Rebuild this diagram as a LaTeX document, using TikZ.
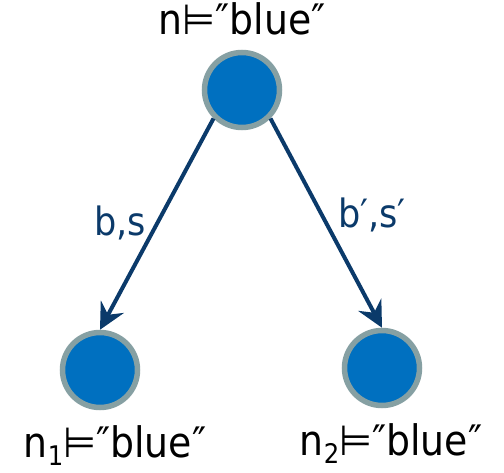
\documentclass[tikz,border=0pt]{standalone}
\usepackage{fontspec}
\setmainfont{DejaVu Sans}
\newfontfamily\condfont{DejaVu Sans Condensed}
\usetikzlibrary{arrows.meta}
\definecolor{nodefill}{HTML}{0070C0}
\definecolor{nodeborder}{HTML}{86A0A3}
\definecolor{edgecol}{HTML}{0B3A6A}
\newcommand{\subidx}[1]{{\fontsize{27}{27}\selectfont\raisebox{-8pt}{#1}}}
\begin{document}
\begin{tikzpicture}[x=1pt,y=-1pt,
  state/.style={circle,draw=nodeborder,fill=nodefill,line width=5.5pt,minimum size=75pt,inner sep=0pt},
  lbl/.style={anchor=base,inner sep=0pt,font=\condfont\fontsize{42}{42}\selectfont},
  elbl/.style={anchor=base,inner sep=0pt,text=edgecol,font=\condfont\fontsize{39}{39}\selectfont},
  edge/.style={draw=edgecol,line width=4pt,-{Stealth[length=26pt,width=26pt,inset=9pt]}}]
\useasboundingbox (0,0) rectangle (504,473);
\node[state] (top) at (242,90) {};
\node[state] (n1) at (100,370) {};
\node[state] (n2) at (382,368) {};
\node[lbl] (ttop) at (242,35) {n⊨″blue″};
\node[lbl] (tn1) at (115,457) {n\subidx{1}⊨″blue″};
\node[lbl] (tn2) at (391,455) {n\subidx{2}⊨″blue″};
\draw[edge] (top.south west) -- (n1.north);
\draw[edge] (top.south east) -- (n2.north);
\node[elbl] (l1) at (120,236) {b,s};
\node[elbl] (l2) at (372,228) {b′,s′};
\end{tikzpicture}
\end{document}
